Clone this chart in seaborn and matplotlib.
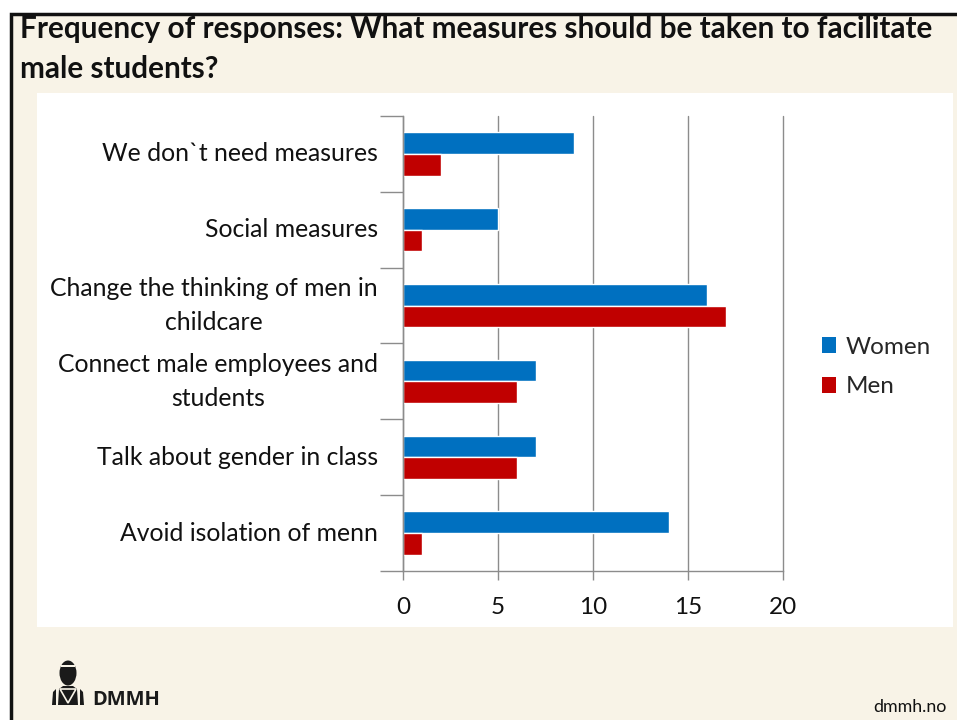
import matplotlib
matplotlib.use("Agg")
import matplotlib.pyplot as plt
import seaborn as sns
import pandas as pd
from matplotlib.patches import Rectangle, Ellipse, Polygon
from matplotlib.ticker import FixedLocator

# Survey answers, counted per gender
categories = [
    "We don`t need measures",
    "Social measures",
    "Change the thinking of men in\nchildcare",
    "Connect male employees and\nstudents",
    "Talk about gender in class",
    "Avoid isolation of menn",
]
women = [9, 5, 16, 7, 7, 14]
men = [2, 1, 17, 6, 6, 1]
series = ["Women", "Men"]
x_ticks = [0, 5, 10, 15, 20]
palette = {"Women": "#0070C0", "Men": "#C00000"}

df = pd.DataFrame({
    "measure": categories * 2,
    "count": women + men,
    "gender": ["Women"] * len(categories) + ["Men"] * len(categories),
})

sns.set_theme(style="white")
plt.rcParams["font.family"] = ["Lato", "DejaVu Sans"]

W, H = 957, 720
fig = plt.figure(figsize=(W / 100, H / 100), dpi=100)
fig.patch.set_facecolor("white")


def fx(px):
    return px / W


def fy(py):
    return 1 - py / H


# slide background with its dark frame
fig.add_artist(Rectangle((fx(11), -0.1), 1.2, fy(14) + 0.1, transform=fig.transFigure,
                         facecolor="#F8F3E7", edgecolor="#111111", lw=2.5, zorder=-3))
# white chart panel
fig.add_artist(Rectangle((fx(37), fy(627)), fx(953) - fx(37), fy(93) - fy(627),
                         transform=fig.transFigure, facecolor="white", edgecolor="none", zorder=-2))

# title
fig.text(fx(20), fy(38), "Frequency of responses: What measures should be taken to facilitate",
         fontsize=21.4, fontweight="bold", color="#111111", va="baseline", ha="left")
fig.text(fx(20), fy(78), "male students?",
         fontsize=21.4, fontweight="bold", color="#111111", va="baseline", ha="left")

ax = fig.add_axes([fx(403), fy(571), fx(783) - fx(403), fy(116) - fy(571)])
ax.set_facecolor("none")

sns.barplot(data=df, y="measure", x="count", hue="gender", order=categories,
            hue_order=series, palette=palette, orient="h", width=0.57,
            saturation=1, legend=False, ax=ax)

ax.set_xlim(0, 20)
ax.set_ylim(len(categories) - 0.5, -0.5)
ax.set_xticks(x_ticks)
ax.set_xticklabels([str(t) for t in x_ticks])
ax.set_xlabel("")
ax.set_ylabel("")
ax.set_axisbelow(True)
ax.grid(axis="x", color="#8C8C8C", lw=1.0)
ax.grid(axis="y", visible=False)
for gl in ax.get_xgridlines():
    gl.set_clip_on(False)

for side in ("top", "right"):
    ax.spines[side].set_visible(False)
for side in ("left", "bottom"):
    ax.spines[side].set_color("#8C8C8C")
    ax.spines[side].set_linewidth(1.0)

ax.yaxis.set_minor_locator(FixedLocator([i - 0.5 for i in range(len(categories) + 1)]))
ax.tick_params(axis="y", which="major", length=0, pad=18, labelsize=17.8, labelcolor="#111111")
ax.tick_params(axis="y", which="minor", length=16.5, width=1.0, color="#8C8C8C", direction="out", left=True)
ax.tick_params(axis="x", which="major", length=6.5, width=1.0, color="#8C8C8C", direction="out",
               bottom=True, pad=12, labelsize=17.5, labelcolor="#111111")
for lab in ax.get_yticklabels():
    lab.set_multialignment("center")
    lab.set_linespacing(1.55)
    lab.set_verticalalignment("center")

# legend
handles = [Rectangle((0, 0), 1, 1, facecolor=palette[s], edgecolor="none") for s in series]
fig.legend(handles, series, loc="center left", bbox_to_anchor=(fx(812), fy(367)),
           frameon=False, fontsize=17.5, handlelength=0.6, handleheight=0.6,
           handletextpad=0.4, labelspacing=0.78, borderaxespad=0)

# footer logo: small figure icon and name
dark = "#1a1a1a"
icon = dict(transform=fig.transFigure, facecolor=dark, edgecolor="none")
fig.add_artist(Ellipse((fx(68), fy(673)), fx(17), fy(0) - fy(25), **icon))
fig.add_artist(Rectangle((fx(61), fy(667)), fx(14), fy(0) - fy(2),
                         transform=fig.transFigure, facecolor="#F8F3E7", edgecolor="none"))
fig.add_artist(Polygon([(fx(58), fy(705)), (fx(59), fy(689)), (fx(63), fy(686)),
                        (fx(73), fy(686)), (fx(77), fy(689)), (fx(78), fy(705))], **icon))
fig.add_artist(Polygon([(fx(60), fy(689)), (fx(68), fy(703)), (fx(76), fy(689))],
                       transform=fig.transFigure, facecolor="none", edgecolor="#F8F3E7", lw=1.2))
fig.add_artist(Polygon([(fx(52), fy(705)), (fx(53), fy(692)), (fx(56), fy(689)),
                        (fx(56), fy(705))], **icon))
fig.add_artist(Polygon([(fx(80), fy(705)), (fx(80), fy(689)), (fx(83), fy(692)),
                        (fx(84), fy(705))], **icon))
fig.text(fx(92), fy(705), "DMMH", fontsize=14.5, fontweight="bold", color=dark,
         va="baseline", ha="left", family=["Open Sans", "DejaVu Sans"])

fig.text(fx(947), fy(712), "dmmh.no", fontsize=12.8, color="#111111",
         va="baseline", ha="right")

fig.savefig("out.png", dpi=100)
